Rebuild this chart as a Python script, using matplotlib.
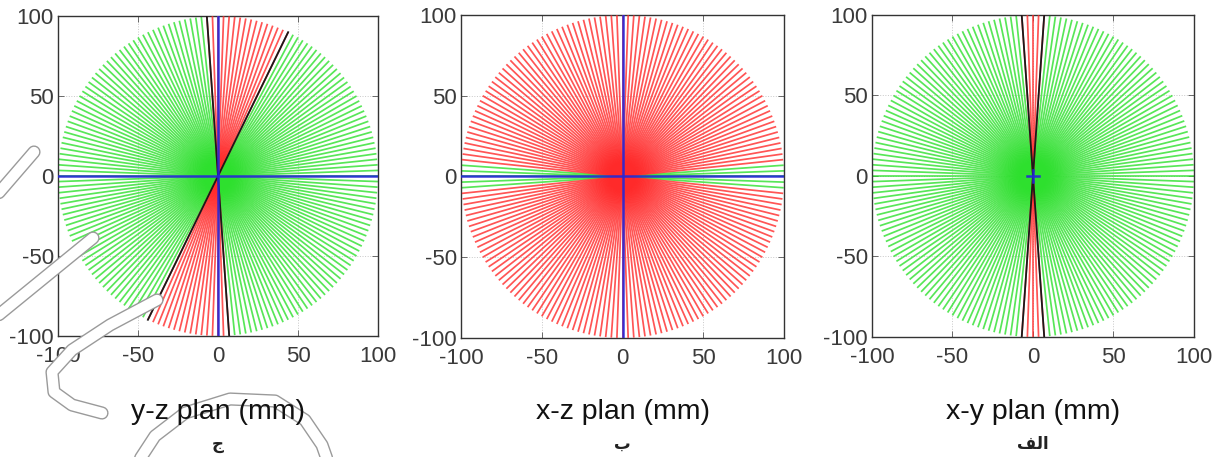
import matplotlib
matplotlib.use("Agg")
import matplotlib.pyplot as plt
import matplotlib.patheffects as pe
import numpy as np
from matplotlib.collections import LineCollection

plt.rcParams["font.family"] = ["Liberation Sans", "DejaVu Sans"]
plt.rcParams["axes.unicode_minus"] = False

# ray directions (deg) and the circle radius (mm)
ray_angles = np.arange(0, 360, 2)
radius = 100

panel_labels = ["y-z plan (mm)", "x-z plan (mm)", "x-y plan (mm)"]
# Arabic sub-captions (presentation forms so they render joined, right-to-left)
panel_letters = ["\u062c", "\u0628", "\ufed2\ufedf\ufe8d"]

# angular sectors (deg) drawn in red; everything else is green
red_sectors_yz = [(64, 94), (244, 274)]
red_sectors_xz = [(6, 174), (186, 354)]
red_sectors_xy = [(86, 94), (266, 274)]
red_sectors = [red_sectors_yz, red_sectors_xz, red_sectors_xy]

# black boundary diameters (deg)
black_lines = [[64, 94], [], [86, 94]]

# blue reference axes: half-length of the axis cross (mm)
blue_extent = [100, 100, 4]

ticks = [-100, -50, 0, 50, 100]

axes_rects = [
    (0.0476, 0.2648, 0.2625, 0.7002),
    (0.3782, 0.2604, 0.2650, 0.7068),
    (0.7153, 0.2626, 0.2642, 0.7046),
]

fig = plt.figure(figsize=(12.19, 4.57), dpi=100)

for rect, label, letter, sectors, blacks, bext in zip(
    axes_rects, panel_labels, panel_letters, red_sectors, black_lines, blue_extent
):
    ax = fig.add_axes(rect)
    is_red = np.zeros(len(ray_angles), bool)
    for a0, a1 in sectors:
        is_red |= (ray_angles >= a0) & (ray_angles <= a1)
    th = np.deg2rad(ray_angles)
    segs = np.stack([np.zeros((len(th), 2)), radius * np.column_stack([np.cos(th), np.sin(th)])], axis=1)

    ax.add_collection(LineCollection(segs[~is_red], colors="#2ee02e", linewidths=1.25,
                                     alpha=0.8, zorder=2))
    ax.add_collection(LineCollection(segs[is_red], colors="#ff2a2a", linewidths=1.25,
                                     alpha=0.8, zorder=3))

    for b in blacks:
        t = np.deg2rad(b)
        ax.plot([-radius * np.cos(t), radius * np.cos(t)],
                [-radius * np.sin(t), radius * np.sin(t)], color="#1a1a1a", lw=1.3, zorder=4)

    ax.plot([-bext, bext], [0, 0], color="#2626d8", lw=1.8, zorder=5, alpha=0.9)
    ax.plot([0, 0], [-bext, bext], color="#2626d8", lw=1.8, zorder=5, alpha=0.9)

    ax.set_xlim(-100, 100)
    ax.set_ylim(-100, 100)
    ax.set_xticks(ticks)
    ax.set_yticks(ticks)
    ax.tick_params(direction="in", top=True, right=True, length=4, width=0.6,
                   labelsize=16, labelcolor="#3a3a3a", color="#555555", pad=7)
    ax.tick_params(axis="y", pad=3)
    ax.grid(True, color="#c8c8c8", linestyle=":", linewidth=0.7, zorder=0)
    for s in ax.spines.values():
        s.set_color("#333333")
        s.set_linewidth(1.0)

    cx = rect[0] + rect[2] / 2
    fig.text(cx, 1 - 412 / 457, label, ha="center", va="center", fontsize=20.5,
             color="#111111", zorder=20)
    fig.text(cx, 1 - 444 / 457, letter, ha="center", va="center", fontsize=12,
             family=["DejaVu Sans"], fontweight="bold", color="#222222", zorder=20)

# faint watermark strokes over the left panel (pixel space overlay)
wm = fig.add_axes([0, 0, 1, 1], zorder=10)
wm.set_xlim(0, 1219)
wm.set_ylim(457, 0)
wm.axis("off")
wm_strokes = [
    [(-10, 203), (34, 152)],
    [(-10, 322), (93, 238)],
    [(157, 300), (110, 325), (72, 350), (52, 372), (54, 392), (72, 405), (102, 413)],
    [(138, 462), (155, 436), (185, 413), (230, 399), (275, 401), (305, 420), (322, 445), (328, 462)],
]
for pts in wm_strokes:
    xs, ys = zip(*pts)
    wm.plot(xs, ys, color="white", lw=7.5, solid_capstyle="round", solid_joinstyle="round",
            path_effects=[pe.Stroke(linewidth=9.5, foreground="#9a9a9a"), pe.Normal()])

fig.savefig("out.png", dpi=100)
